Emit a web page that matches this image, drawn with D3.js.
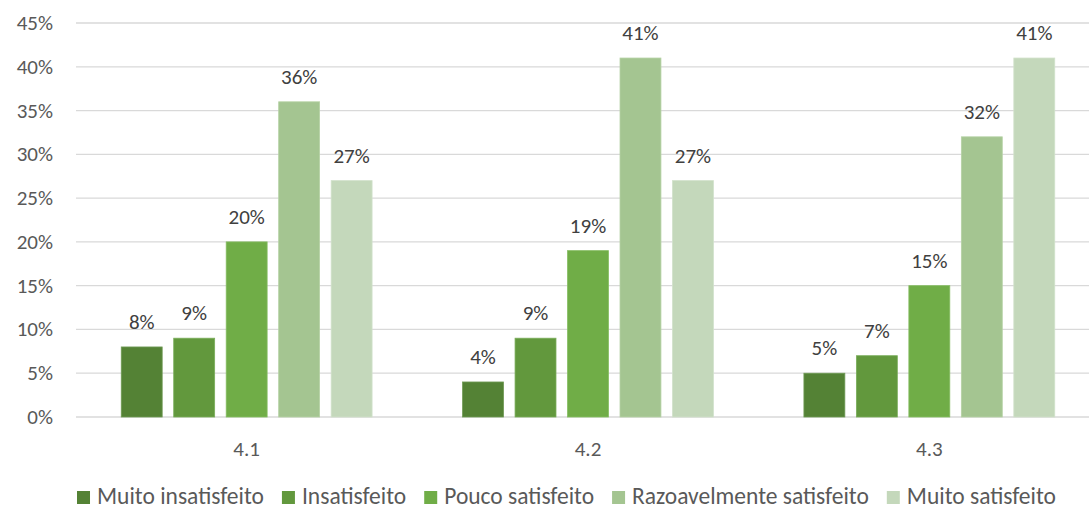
<!DOCTYPE html>
<html>
<head>
<meta charset="utf-8">
<script src="https://cdn.jsdelivr.net/npm/d3@7.9.0/dist/d3.min.js"></script>
<style>
  body { margin: 0; background: #fff; }
  svg { display: block; font-family: Carlito, Calibri, Lato, sans-serif; }
</style>
</head>
<body>
<svg id="chart" width="1089" height="510"></svg>
<script>
const categories = ['4.1', '4.2', '4.3'];
const seriesNames = ['Muito insatisfeito', 'Insatisfeito', 'Pouco satisfeito', 'Razoavelmente satisfeito', 'Muito satisfeito'];
const muitoInsatisfeito = [8, 4, 5];
const insatisfeito = [9, 9, 7];
const poucoSatisfeito = [20, 19, 15];
const razoavelmente = [36, 41, 32];
const muitoSatisfeito = [27, 27, 41];
const yTicks = [0, 5, 10, 15, 20, 25, 30, 35, 40, 45];

const seriesValues = [muitoInsatisfeito, insatisfeito, poucoSatisfeito, razoavelmente, muitoSatisfeito];
const colors = ['#548235', '#62983d', '#70ad47', '#a4c591', '#c4d8bb'];
const strokes = ['#6f9a55', '#7aad5a', '#85bd62', '#b6d2a5', '#d2e2cb'];

const svg = d3.select('#chart');
const plotLeft = 76, plotRight = 1100, plotTop = 23, plotBottom = 417;

let x0 = d3.scaleBand().domain(categories).range([plotLeft, plotRight]);
let x1 = d3.scaleBand().domain(d3.range(seriesNames.length))
  .range([45.25, x0.bandwidth() - 45.25]).paddingInner(0.22).paddingOuter(0);
let y = d3.scaleLinear().domain([0, 45]).range([plotBottom, plotTop]);

// gridlines
svg.append('g')
  .selectAll('line')
  .data(yTicks)
  .join('line')
  .attr('x1', plotLeft).attr('x2', plotRight)
  .attr('y1', (d) => y(d)).attr('y2', (d) => y(d))
  .attr('stroke', '#d9d9d9').attr('stroke-width', 1.3);

// y tick labels
svg.append('g')
  .selectAll('text')
  .data(yTicks)
  .join('text')
  .attr('x', 53).attr('y', (d) => y(d) + 7)
  .attr('text-anchor', 'end')
  .attr('font-size', 21).attr('fill', '#595959')
  .text((d) => d + '%');

// bars
seriesValues.forEach((vals, si) => {
  let g = svg.append('g');
  g.selectAll('rect')
    .data(vals)
    .join('rect')
    .attr('x', (d, i) => x0(categories[i]) + x1(si))
    .attr('y', (d) => y(d))
    .attr('width', x1.bandwidth())
    .attr('height', (d) => y(0) - y(d))
    .attr('fill', colors[si])
    .attr('stroke', strokes[si]).attr('stroke-width', 0.8);

  g.selectAll('text')
    .data(vals)
    .join('text')
    .attr('x', (d, i) => x0(categories[i]) + x1(si) + x1.bandwidth() / 2)
    .attr('y', (d) => y(d) - 18)
    .attr('text-anchor', 'middle')
    .attr('font-size', 21).attr('fill', '#404040')
    .text((d) => d + '%');
});

// category labels
svg.append('g')
  .selectAll('text')
  .data(categories)
  .join('text')
  .attr('x', (d) => x0(d) + x1(0) + (x1(4) + x1.bandwidth() - x1(0)) / 2)
  .attr('y', 456)
  .attr('text-anchor', 'middle')
  .attr('font-size', 21).attr('fill', '#595959')
  .text((d) => d);

// legend
let legend = svg.append('g');
let items = legend.selectAll('g')
  .data(seriesNames)
  .join('g');
items.append('rect')
  .attr('width', 13).attr('height', 13)
  .attr('y', 491)
  .attr('fill', (d, i) => colors[i]);
items.append('text')
  .attr('x', 20).attr('y', 504)
  .attr('font-size', 23.5).attr('fill', '#595959')
  .text((d) => d);

let widths = [];
items.each(function () { widths.push(this.querySelector('text').getComputedTextLength()); });
let gap = 18;
let total = d3.sum(widths) + widths.length * 20 + (widths.length - 1) * gap;
let xpos = (69 + 1064) / 2 - total / 2;
items.attr('transform', (d, i) => {
  let t = `translate(${xpos},0)`;
  xpos += 20 + widths[i] + gap;
  return t;
});
</script>
</body>
</html>
